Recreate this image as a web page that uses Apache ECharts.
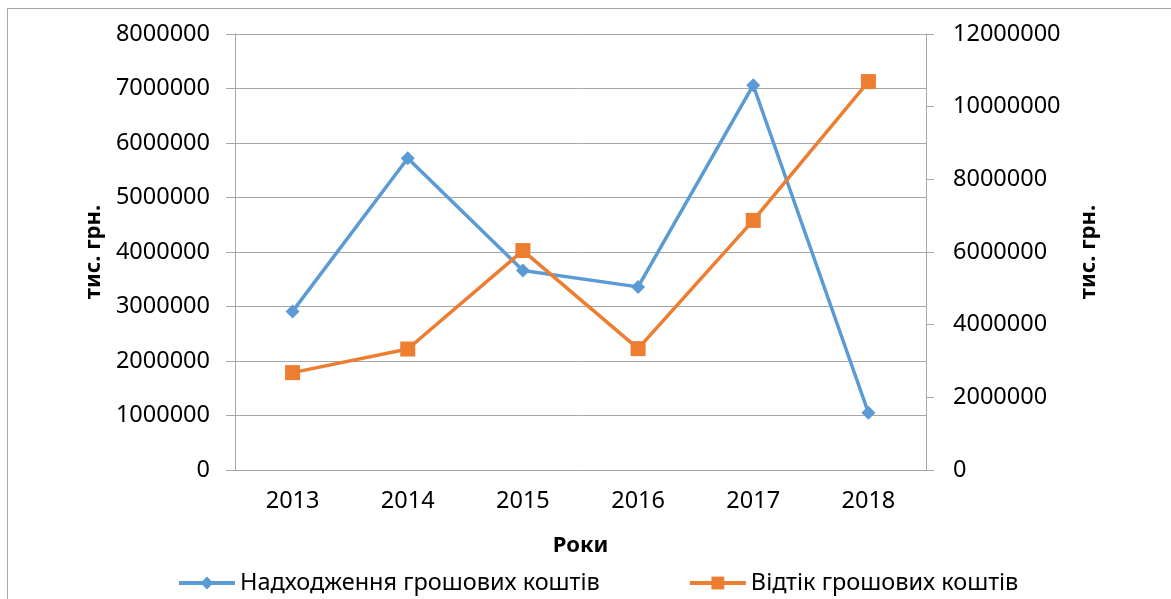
<!DOCTYPE html>
<html>
<head>
<meta charset="utf-8">
<script src="https://cdn.jsdelivr.net/npm/echarts@6/dist/echarts.min.js"></script>
<style>
    html, body { margin: 0; padding: 0; background: #fff; }
    #frame {
        position: absolute; left: 7px; top: 8px; width: 1170px; height: 600px;
        border: 1px solid #a6a6a6; box-sizing: border-box;
    }
    #chart { position: absolute; left: 0; top: 0; width: 1171px; height: 599px; }
</style>
</head>
<body>
<div id="frame"></div>
<div id="chart"></div>
<script>
    // дані графіка
    const years = ['2013', '2014', '2015', '2016', '2017', '2018'];
    const inflow = [2910000, 5720000, 3660000, 3360000, 7060000, 1050000];
    const outflow = [2680000, 3330000, 6040000, 3340000, 6870000, 10690000];
    const seriesNames = ['Надходження грошових коштів', 'Відтік грошових коштів'];
    const axisTitle = 'тис. грн.';
    const xTitle = 'Роки';

    const FONT = 'Noto Sans';
    const FS = 23.5;
    const GRAY = '#a6a6a6';

    var myChart = echarts.init(document.getElementById('chart'), null, { renderer: 'canvas' });

    const plain = v => String(v);

    var option = {
        animation: false,
        textStyle: { fontFamily: FONT },
        grid: { left: 235, right: 245, top: 34, bottom: 129 },
        legend: {
            left: 172,
            top: 566,
            itemWidth: 56,
            itemHeight: 16,
            itemGap: 88,
            lineStyle: { width: 4 },
            textStyle: { fontSize: FS, color: '#000', fontFamily: FONT },
            data: seriesNames
        },
        xAxis: {
            type: 'category',
            data: years,
            boundaryGap: true,
            name: xTitle,
            nameLocation: 'middle',
            nameGap: 65,
            nameTextStyle: { fontSize: 22, fontWeight: 'bold', color: '#000', fontFamily: FONT },
            axisLine: { lineStyle: { color: GRAY, width: 1 } },
            axisTick: { alignWithLabel: false, length: 8, lineStyle: { color: GRAY } },
            axisLabel: { fontSize: FS, color: '#000', margin: 19 },
            splitLine: { show: false }
        },
        yAxis: [
            {
                type: 'value',
                min: 0, max: 8000000, interval: 1000000,
                name: axisTitle,
                nameLocation: 'middle',
                nameGap: 128,
                nameRotate: 90,
                nameTextStyle: { fontSize: 22, fontWeight: 'bold', color: '#000', fontFamily: FONT },
                axisLine: { show: true, lineStyle: { color: GRAY } },
                axisTick: { show: true, length: 9, lineStyle: { color: GRAY } },
                axisLabel: { fontSize: FS, color: '#000', margin: 25, formatter: plain },
                splitLine: { show: true, lineStyle: { color: GRAY, width: 1 } }
            },
            {
                type: 'value',
                min: 0, max: 12000000, interval: 2000000,
                name: axisTitle,
                nameLocation: 'middle',
                nameGap: 152,
                nameRotate: 90,
                nameTextStyle: { fontSize: 22, fontWeight: 'bold', color: '#000', fontFamily: FONT },
                axisLine: { show: true, lineStyle: { color: GRAY } },
                axisTick: { show: true, length: 8, lineStyle: { color: GRAY } },
                axisLabel: { fontSize: FS, color: '#000', margin: 27, formatter: plain },
                splitLine: { show: false }
            }
        ],
        series: [
            {
                name: seriesNames[0],
                type: 'line',
                yAxisIndex: 0,
                data: inflow,
                symbol: 'diamond',
                symbolSize: 14,
                lineStyle: { color: '#5B9BD5', width: 3.5 },
                itemStyle: { color: '#5B9BD5' }
            },
            {
                name: seriesNames[1],
                type: 'line',
                yAxisIndex: 1,
                data: outflow,
                symbol: 'rect',
                symbolSize: 15,
                lineStyle: { color: '#ED7D31', width: 3.5 },
                itemStyle: { color: '#ED7D31' }
            }
        ]
    };

    myChart.setOption(option);
</script>
</body>
</html>
